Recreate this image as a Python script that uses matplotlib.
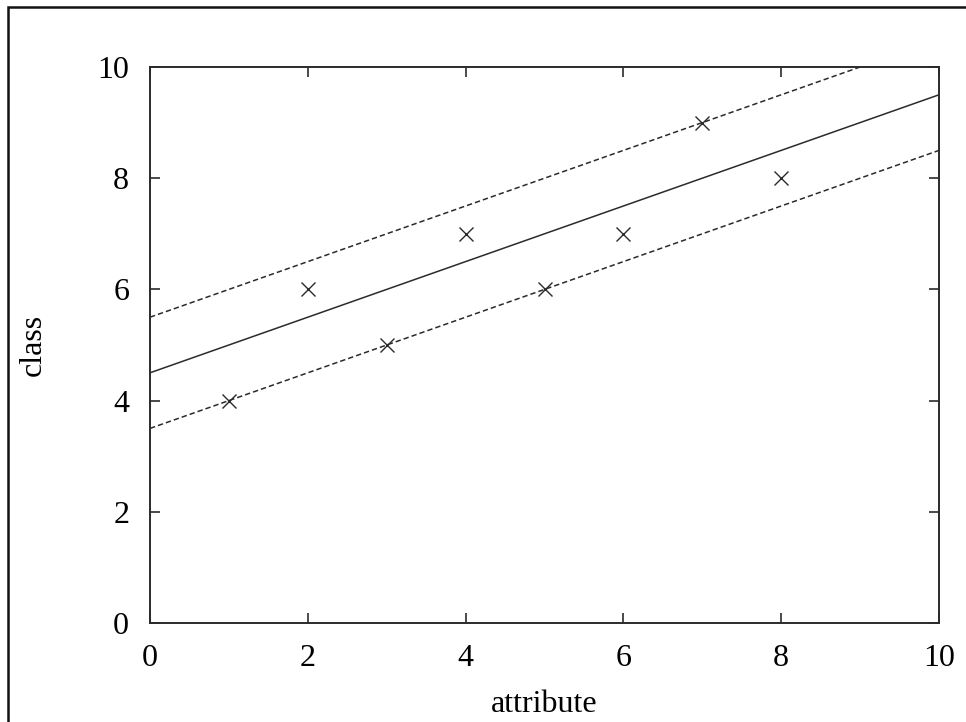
import matplotlib.pyplot as plt
from matplotlib.patches import Rectangle

# ---- Data ----
attribute = [1, 2, 3, 4, 5, 6, 7, 8]
cls = [4, 6, 5, 7, 6, 7, 9, 8]

# fitted line and the +/- 1 band around it
fit_x = [0, 10]
fit_y = [4.5, 9.5]
upper_y = [5.5, 10.5]
lower_y = [3.5, 8.5]

ticks = [0, 2, 4, 6, 8, 10]

plt.rcParams['font.family'] = ['Liberation Serif', 'DejaVu Serif']
ink = '#2b2b2b'

fig = plt.figure(figsize=(9.66, 7.22), dpi=100)
ax = fig.add_axes([150/966, 1 - 623/722, (939 - 150)/966, (623 - 67)/722])

ax.plot(fit_x, fit_y, color=ink, lw=1.1)
ax.plot(fit_x, upper_y, color=ink, lw=1.1, ls=(0, (3.5, 2)))
ax.plot(fit_x, lower_y, color=ink, lw=1.1, ls=(0, (3.5, 2)))
ax.plot(attribute, cls, ls='none', marker='x', ms=10, mew=1.0, color=ink)

ax.set_xlim(0, 10)
ax.set_ylim(0, 10)
ax.set_xticks(ticks)
ax.set_yticks(ticks)
ax.tick_params(direction='in', length=7, width=1.2, color=ink,
               top=True, right=True, labelsize=23, pad=15)
for s in ax.spines.values():
    s.set_linewidth(1.4)
    s.set_color(ink)

ax.set_xlabel('attribute', fontsize=23, labelpad=12)
ax.set_ylabel('class', fontsize=23, labelpad=36)

# outer frame of the figure (only left and top are visible)
fig.patches.append(Rectangle((8/966, -0.1), 1.2, 1.1 - 7/722, transform=fig.transFigure,
                             fill=False, lw=1.8, edgecolor='#111111'))

fig.savefig('out.png', dpi=100)
